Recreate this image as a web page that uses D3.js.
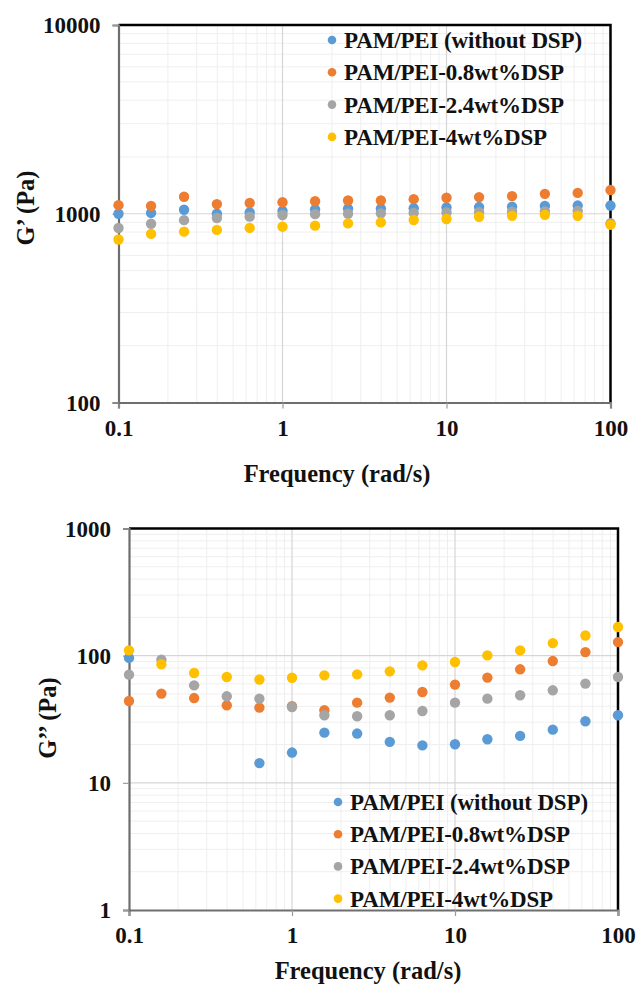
<!DOCTYPE html>
<html><head><meta charset="utf-8">
<script src="https://cdn.jsdelivr.net/npm/d3@7"></script>
<style>
html,body{margin:0;padding:0;background:#fff;}
svg{display:block;}
svg text{font-family:"Liberation Serif","Tinos","Times New Roman","Nimbus Roman","DejaVu Serif",serif !important;font-weight:bold;fill:#111;}
</style></head>
<body><svg id="c" width="636" height="986"></svg>
<script>
const freq = [0.1, 0.158, 0.251, 0.398, 0.631, 1, 1.58, 2.51, 3.98, 6.31, 10, 15.8, 25.1, 39.8, 63.1, 100];
const seriesNames = ["PAM/PEI (without DSP)", "PAM/PEI-0.8wt%DSP", "PAM/PEI-2.4wt%DSP", "PAM/PEI-4wt%DSP"];
const seriesColors = ["#5B9BD5", "#ED7D31", "#A5A5A5", "#FFC000"];

// G' (storage modulus)
const gp_without = [1000, 1010, 1050, 1000, 1015, 1035, 1055, 1065, 1065, 1070, 1080, 1085, 1090, 1100, 1105, 1105];
const gp_08 = [1110, 1100, 1230, 1125, 1140, 1150, 1165, 1175, 1175, 1195, 1215, 1225, 1240, 1275, 1290, 1335];
const gp_24 = [840, 885, 925, 950, 965, 985, 995, 1000, 1005, 1010, 1015, 1020, 1025, 1030, 1035, 890];
const gp_4 = [730, 782, 804, 821, 841, 854, 865, 889, 900, 927, 938, 964, 976, 988, 976, 875];

// G'' (loss modulus)
const gpp_without = [96, null, null, null, 14.3, 17.3, 24.8, 24.4, 21, 19.7, 20.1, 22, 23.4, 26.2, 30.5, 34];
const gpp_08 = [44, 50.3, 46.4, 40.7, 39, 40, 37.2, 42.7, 46.8, 51.8, 59.2, 67.2, 78.1, 90.7, 106.7, 127.9];
const gpp_24 = [70.9, 93, 58.4, 47.9, 45.9, 39.5, 34, 33.4, 34, 36.7, 42.7, 45.9, 48.8, 53.4, 60.3, 67.9];
const gpp_4 = [110, 85.5, 73, 68, 65, 67, 70, 71.3, 75.3, 83.9, 89.1, 100.5, 110, 125.6, 144, 168];

const xTicks = [0.1, 1, 10, 100];
const yTicksTop = [100, 1000, 10000];
const yTicksBottom = [1, 10, 100, 1000];

const svg = d3.select("#c");

function minorVals(lo, hi) {
  const out = [];
  for (let d = lo; d < hi; d *= 10) for (let k = 2; k <= 9; k++) out.push(d * k);
  return out;
}

function panel(cfg) {
  const g = svg.append("g");
  const x = d3.scaleLog().domain([0.1, 100]).range([cfg.left, cfg.right]);
  const y = d3.scaleLog().domain(cfg.yDomain).range([cfg.bottom, cfg.top]);
  // minor gridlines
  g.append("g").selectAll("line.mx").data(minorVals(0.1, 100)).join("line")
    .attr("x1", d => x(d)).attr("x2", d => x(d)).attr("y1", cfg.top).attr("y2", cfg.bottom)
    .attr("stroke", "#efefef").attr("stroke-width", 1);
  g.append("g").selectAll("line.my").data(minorVals(cfg.yDomain[0], cfg.yDomain[1])).join("line")
    .attr("y1", d => y(d)).attr("y2", d => y(d)).attr("x1", cfg.left).attr("x2", cfg.right)
    .attr("stroke", "#efefef").attr("stroke-width", 1);
  // major gridlines
  g.append("g").selectAll("line").data(xTicks.slice(1, -1)).join("line")
    .attr("x1", d => x(d)).attr("x2", d => x(d)).attr("y1", cfg.top).attr("y2", cfg.bottom)
    .attr("stroke", "#d6d6d6").attr("stroke-width", 1.2);
  g.append("g").selectAll("line").data(cfg.yTicks.slice(1, -1)).join("line")
    .attr("y1", d => y(d)).attr("y2", d => y(d)).attr("x1", cfg.left).attr("x2", cfg.right)
    .attr("stroke", "#d6d6d6").attr("stroke-width", 1.2);

  // frame top & right (black)
  g.append("path").attr("d", `M${cfg.left},${cfg.top}H${cfg.right}V${cfg.bottom}`)
    .attr("fill", "none").attr("stroke", "#000").attr("stroke-width", 2.5);

  // axes
  const xAxis = d3.axisBottom(x).tickValues(xTicks).tickFormat(d => String(d)).tickSize(6).tickPadding(11);
  const gx = g.append("g").attr("transform", `translate(0,${cfg.bottom})`).call(xAxis);
  const yAxis = d3.axisLeft(y).tickValues(cfg.yTicks).tickFormat(d => String(d)).tickSize(6).tickPadding(12);
  const gy = g.append("g").attr("transform", `translate(${cfg.left},0)`).call(yAxis);
  [gx, gy].forEach(a => {
    a.attr("font-family", null);
    a.select(".domain").attr("stroke", "#6e6e6e").attr("stroke-width", 2.2);
    a.selectAll(".tick line").attr("stroke", "#9a9a9a").attr("stroke-width", 1.2);
    a.selectAll("text").attr("font-size", 23).attr("fill", "#111");
  });
  gy.selectAll(".tick text").attr("dy", "0.34em");

  // points
  cfg.series.forEach((vals, i) => {
    g.append("g").selectAll("circle")
      .data(freq.map((f, j) => ({ f, v: vals[j] })).filter(d => d.v != null))
      .join("circle")
      .attr("cx", d => x(d.f)).attr("cy", d => y(d.v)).attr("r", 5.2)
      .attr("fill", seriesColors[i]);
  });

  // axis titles
  g.append("text").attr("x", cfg.xTitleX).attr("y", cfg.xTitleY)
    .attr("text-anchor", "middle").attr("font-size", 24.5).text("Frequency (rad/s)");
  g.append("text").attr("transform", `translate(${cfg.yTitleX},${cfg.yTitleY}) rotate(-90)`)
    .attr("text-anchor", "middle").attr("dy", "0.35em").attr("font-size", 24.5).text(cfg.yTitle);

  // legend
  const lg = g.append("g");
  seriesNames.forEach((name, i) => {
    const ly = cfg.legendY + i * cfg.legendStep;
    lg.append("circle").attr("cx", cfg.legendX).attr("cy", ly).attr("r", 4.3).attr("fill", seriesColors[i]);
    lg.append("text").attr("x", cfg.legendX + 12).attr("y", ly).attr("dy", "0.35em")
      .attr("font-size", 23).attr("letter-spacing", "-0.15").text(name);
  });
}

panel({
  left: 118.5, right: 610.5, top: 25, bottom: 402.5,
  yDomain: [100, 10000], yTicks: yTicksTop,
  series: [gp_without, gp_08, gp_24, gp_4],
  xTitleX: 337, xTitleY: 482, yTitleX: 25, yTitleY: 208, yTitle: "G’ (Pa)",
  legendX: 332, legendY: 40, legendStep: 32.3
});

panel({
  left: 129, right: 618, top: 528.5, bottom: 910,
  yDomain: [1, 1000], yTicks: yTicksBottom,
  series: [gpp_without, gpp_08, gpp_24, gpp_4],
  xTitleX: 368, xTitleY: 979, yTitleX: 47, yTitleY: 718, yTitle: "G’’ (Pa)",
  legendX: 338, legendY: 802, legendStep: 32.2
});
</script></body></html>
